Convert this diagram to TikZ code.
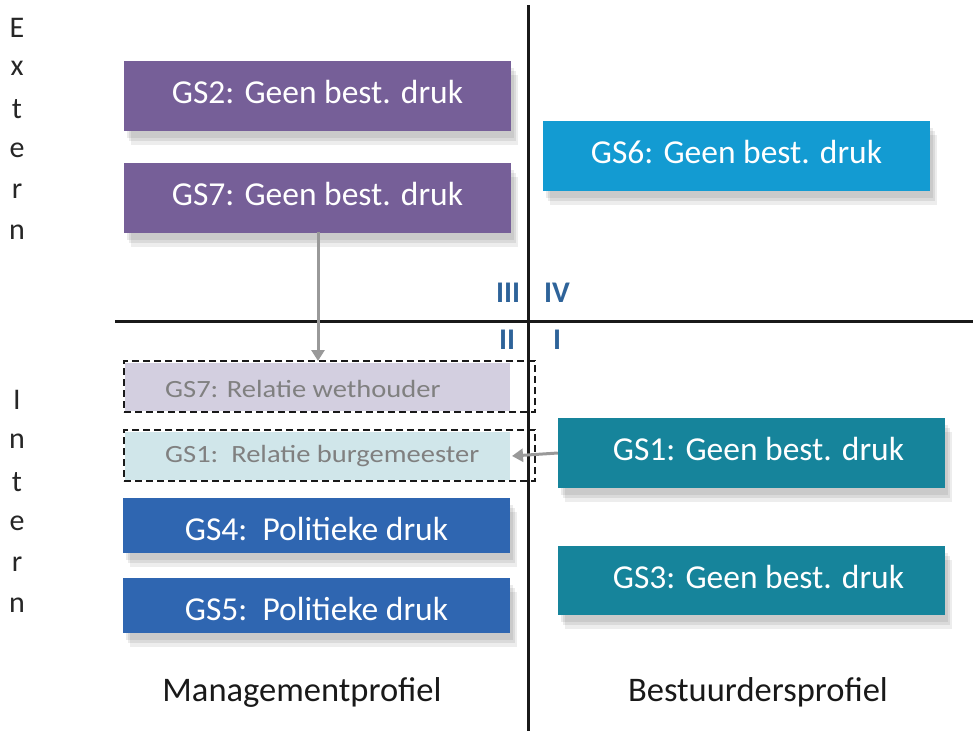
\documentclass[tikz,border=0pt]{standalone}
\usepackage{fontspec}
\setmainfont{Carlito}
\newfontfamily\widefont[FakeStretch=1.15]{Carlito}
\usetikzlibrary{arrows.meta}
\definecolor{cpurple}{HTML}{765F98}
\definecolor{csky}{HTML}{139BD2}
\definecolor{cteal}{HTML}{16849B}
\definecolor{cblue}{HTML}{2F66B1}
\definecolor{clav}{HTML}{D3CFE0}
\definecolor{ccyan}{HTML}{D0E6EA}
\definecolor{croman}{HTML}{2E6399}
\definecolor{carrow}{HTML}{999999}
\definecolor{cgraytext}{HTML}{808080}
\tikzset{
  shad/.style={preaction={fill=black,opacity=0.08,transform canvas={xshift=5pt,yshift=-10pt}},
               preaction={fill=black,opacity=0.08,transform canvas={xshift=3pt,yshift=-7pt}},
               preaction={fill=black,opacity=0.07,transform canvas={xshift=7pt,yshift=-14pt}},
               preaction={fill=white}},
  gsbox/.style={shad,rectangle,inner sep=0pt,minimum width=387pt,minimum height=70pt,
                text height=25pt,text depth=10pt,
                text=white,font=\fontsize{33.5}{36}\selectfont},
  lowtext/.style={text height=29pt,text depth=0pt},
  dbox/.style={rectangle,draw=black!90,line width=1.6pt,dash pattern=on 7pt off 4pt,
               minimum width=411pt,minimum height=51pt,inner sep=0pt},
  fbox/.style={rectangle,inner sep=0pt,minimum width=385pt,minimum height=48pt},
  dtext/.style={anchor=west,inner sep=0pt,text=cgraytext,font=\widefont\fontsize{24.8}{28}\selectfont},
  roman/.style={text=croman,font=\bfseries\fontsize{30}{32}\selectfont,inner sep=0pt},
  sidelet/.style={font=\fontsize{30}{32}\selectfont,inner sep=0pt,text=black!85},
  axis/.style={line width=3pt,black!90},
  conn/.style={line width=3pt,carrow,-{Triangle[length=11pt,width=13pt]}},
  prof/.style={font=\fontsize{34.5}{36}\selectfont,inner sep=0pt,text=black!90}
}
\begin{document}
\begin{tikzpicture}[x=1pt,y=-1pt]
\useasboundingbox (0,0) rectangle (973,731);
% boxes
\node[gsbox,fill=cpurple] (gs2) at (317.5,96) {GS2: Geen best. druk};
\node[gsbox,fill=cpurple] (gs7) at (317.5,197.5) {GS7: Geen best. druk};
\node[gsbox,fill=csky] (gs6) at (736.5,156) {GS6: Geen best. druk};
\node[gsbox,fill=cteal] (gs1) at (751.5,453) {\hspace*{14pt}GS1: Geen best. druk};
\node[gsbox,fill=cteal,minimum height=69pt] (gs3) at (751.5,580.5) {\hspace*{14pt}GS3: Geen best. druk};
\node[gsbox,lowtext,fill=cblue,minimum height=55pt] (gs4) at (316.5,525.5) {GS4:\ \ Politieke druk};
\node[gsbox,lowtext,fill=cblue,minimum height=55pt] (gs5) at (316.5,605.5) {GS5:\ \ Politieke druk};
% dashed boxes
\node[fbox,fill=clav] (f7) at (317.5,387) {};
\node[fbox,fill=ccyan] (f1) at (317.5,456) {};
\node[dbox] (d7) at (329.5,386.5) {};
\node[dbox] (d1) at (329.5,455.5) {};
\node[dtext] (t7) at (165,388.5) {GS7: Relatie wethouder};
\node[dtext] (t1) at (165,456.5) {GS1:\ \ Relatie burgemeester};
% axes
\coordinate (vt) at (528,5);
\coordinate (vb) at (528,731);
\coordinate (hl) at (115,321);
\coordinate (hr) at (973,321);
\draw[axis] (vt) -- (vb);
\draw[axis] (hl) -- (hr);
% roman numerals
\node[roman] (r3) at (508,293) {III};
\node[roman] (r4) at (557,293) {IV};
\node[roman] (r2) at (507,340) {II};
\node[roman] (r1) at (557,340) {I};
% connectors
\coordinate (a7s) at (318,232);
\coordinate (a7e) at (318,361);
\coordinate (a1e) at (512,456);
\draw[conn] (a7s) -- (a7e);
\draw[conn] (gs1.west) -- (a1e);
% side letters
\foreach \l [count=\i from 0] in {E,x,t,e,r,n}
  \node[sidelet] (ex\i) at (17,28+40.8*\i) {\l};
\foreach \l [count=\i from 0] in {I,n,t,e,r,n}
  \node[sidelet] (in\i) at (17,400+41*\i) {\l};
% profile labels
\node[prof] (mp) at (302,692) {Managementprofiel};
\node[prof] (bp) at (758,692) {Bestuurdersprofiel};
\end{tikzpicture}
\end{document}
